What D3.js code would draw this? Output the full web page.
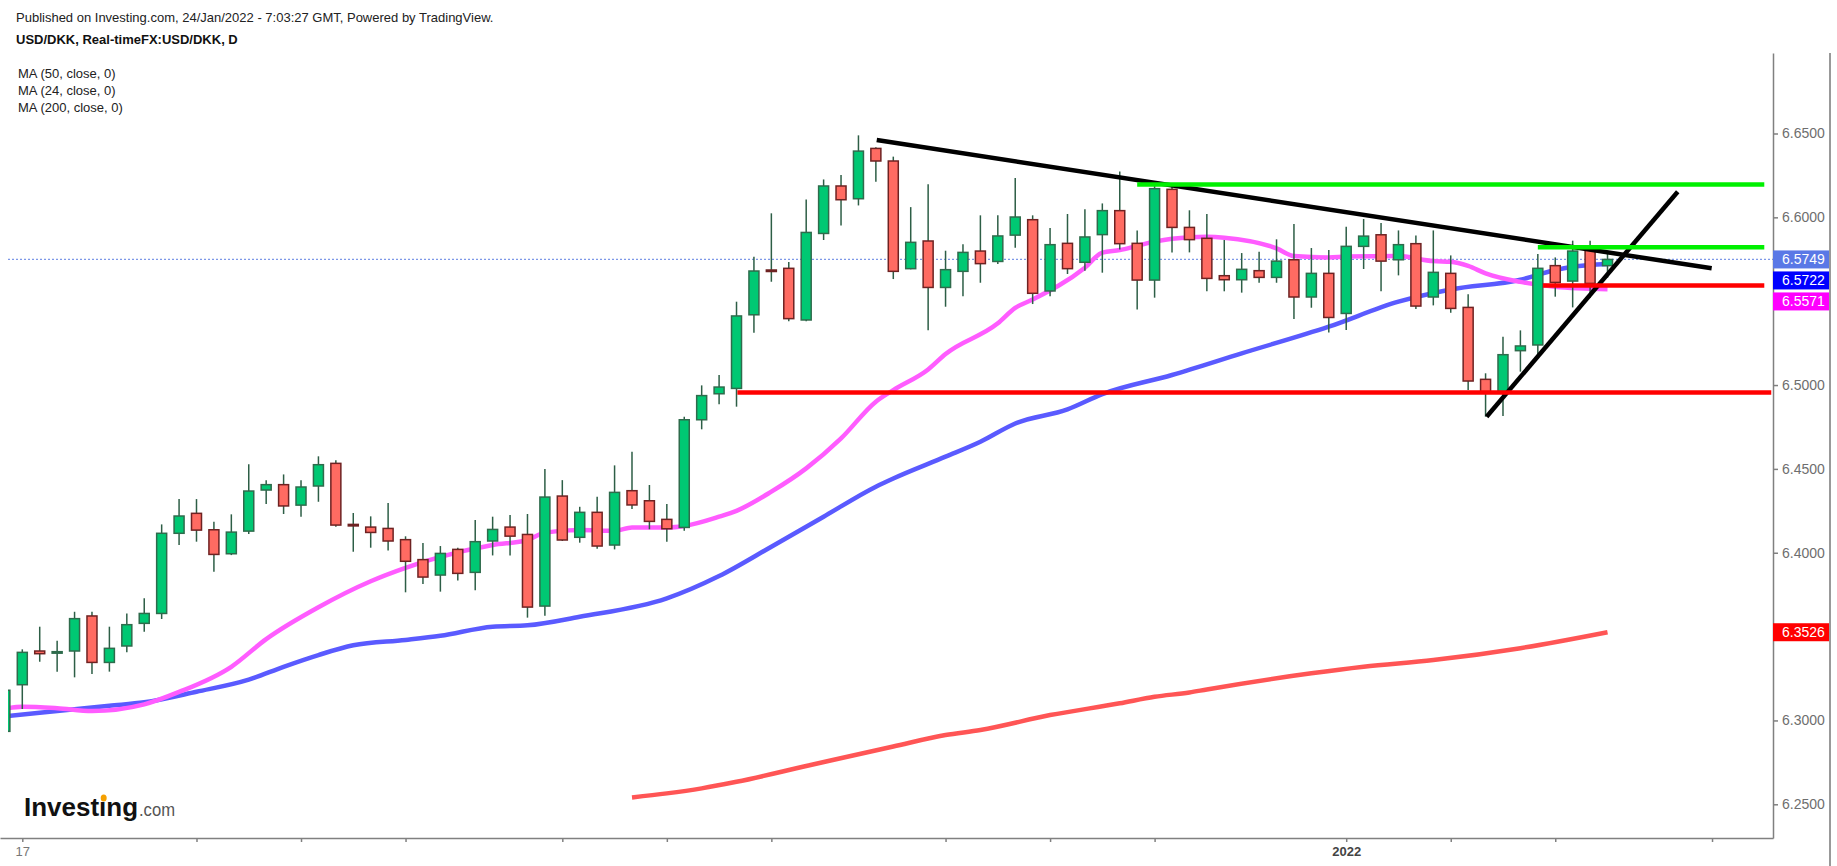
<!DOCTYPE html>
<html>
<head>
  <meta charset="utf-8">
  <title>USD/DKK daily candles with moving averages</title>
  <style>
    html, body {
      margin: 0;
      padding: 0;
      background: #fff;
      overflow: hidden;
    }
    svg {
      display: block;
      font-family: "Liberation Sans", Arial, sans-serif;
    }
    .axis text {
      font-size: 14px;
      fill: #6e6e6e;
    }
    .axis path, .axis line {
      stroke: #808080;
      stroke-width: 1.5px;
    }
    .header {
      font-size: 13px;
      fill: #222;
    }
  </style>
</head>
<body>
  <div id="chart"></div>

  <script src="https://d3js.org/d3.v7.min.js"></script>
  <script>
    // ---- Daily candles, index 0 = 16 Sep 2021 ... 92 = 24 Jan 2022 ----
    const openP = [
      6.2935, 6.3213, 6.3414, 6.3405, 6.3414, 6.3623, 6.3346, 6.3444, 6.3579, 6.3638,
      6.4116, 6.4235, 6.4137, 6.3994, 6.4129, 6.4374, 6.4406, 6.4284, 6.4398, 6.4533,
      6.4169, 6.4153, 6.4145, 6.4078, 6.3959, 6.3867, 6.4020, 6.3883, 6.4070, 6.4153,
      6.4109, 6.3682, 6.4338, 6.4092, 6.4241, 6.4046, 6.4370, 6.4310, 6.4199, 6.4151,
      6.4793, 6.4948, 6.4980, 6.5419, 6.5686, 6.5696, 6.5388, 6.5904, 6.6187, 6.6111,
      6.6411, 6.6336, 6.5694, 6.5859, 6.5582, 6.5678, 6.5799, 6.5737, 6.5894, 6.5986,
      6.5561, 6.5845, 6.5732, 6.5897, 6.6040, 6.5845, 6.5626, 6.6167, 6.5940, 6.5875,
      6.5652, 6.5628, 6.5682, 6.5642, 6.5747, 6.5525, 6.5666, 6.5427, 6.5827, 6.5896,
      6.5747, 6.5843, 6.5525, 6.5666, 6.5463, 6.5034, 6.4954, 6.5205, 6.5239, 6.5712,
      6.5620, 6.5805, 6.5712
    ];
    const highP = [
      6.3190, 6.3424, 6.3559, 6.3475, 6.3648, 6.3648, 6.3559, 6.3638, 6.3728, 6.4169,
      6.4320, 6.4320, 6.4185, 6.4229, 6.4527, 6.4433, 6.4467, 6.4433, 6.4575, 6.4551,
      6.4237, 6.4217, 6.4296, 6.4098, 6.4058, 6.4040, 6.4030, 6.4195, 6.4215, 6.4225,
      6.4231, 6.4499, 6.4433, 6.4274, 6.4334, 6.4521, 6.4602, 6.4404, 6.4290, 6.4811,
      6.4998, 6.5060, 6.5497, 6.5765, 6.6024, 6.5733, 6.6107, 6.6226, 6.6252, 6.6489,
      6.6418, 6.6362, 6.6061, 6.6197, 6.5801, 6.5839, 6.6012, 6.6012, 6.6234, 6.6012,
      6.5936, 6.6020, 6.6048, 6.6083, 6.6274, 6.5922, 6.6199, 6.6203, 6.6042, 6.6020,
      6.5865, 6.5787, 6.5795, 6.5869, 6.5960, 6.5817, 6.5805, 6.5944, 6.5990, 6.5966,
      6.5922, 6.5892, 6.5922, 6.5773, 6.5541, 6.5070, 6.5288, 6.5326, 6.5781, 6.5761,
      6.5861, 6.5861, 6.5785
    ];
    const lowP = [
      6.2925, 6.3068, 6.3350, 6.3291, 6.3257, 6.3277, 6.3291, 6.3406, 6.3529, 6.3605,
      6.4046, 6.4066, 6.3887, 6.3986, 6.4112, 6.4290, 6.4231, 6.4215, 6.4304, 6.4155,
      6.4006, 6.4030, 6.4014, 6.3764, 6.3813, 6.3768, 6.3835, 6.3776, 6.3984, 6.3984,
      6.3613, 6.3625, 6.4070, 6.4060, 6.4024, 6.4020, 6.4261, 6.4140, 6.4066, 6.4131,
      6.4736, 6.4885, 6.4871, 6.5312, 6.5616, 6.5380, 6.5380, 6.5865, 6.5952, 6.6071,
      6.6212, 6.5632, 6.5690, 6.5326, 6.5467, 6.5529, 6.5610, 6.5722, 6.5819, 6.5483,
      6.5529, 6.5662, 6.5682, 6.5670, 6.5809, 6.5451, 6.5521, 6.5791, 6.5791, 6.5559,
      6.5559, 6.5551, 6.5610, 6.5610, 6.5394, 6.5461, 6.5314, 6.5328, 6.5692, 6.5559,
      6.5654, 6.5453, 6.5475, 6.5431, 6.4970, 6.4811, 6.4815, 6.5080, 6.5159, 6.5527,
      6.5463, 6.5521, 6.5640
    ];
    const closeP = [
      6.3180, 6.3406, 6.3398, 6.3410, 6.3607, 6.3346, 6.3430, 6.3571, 6.3638, 6.4116,
      6.4219, 6.4135, 6.3990, 6.4123, 6.4368, 6.4406, 6.4279, 6.4392, 6.4525, 6.4165,
      6.4160, 6.4121, 6.4070, 6.3949, 6.3855, 6.3996, 6.3877, 6.4066, 6.4139, 6.4099,
      6.3676, 6.4332, 6.4076, 6.4241, 6.4040, 6.4360, 6.4285, 6.4187, 6.4143, 6.4793,
      6.4937, 6.4988, 6.5412, 6.5680, 6.5682, 6.5396, 6.5910, 6.6187, 6.6105, 6.6395,
      6.6336, 6.5678, 6.5851, 6.5582, 6.5688, 6.5791, 6.5724, 6.5889, 6.6002, 6.5547,
      6.5837, 6.5694, 6.5883, 6.6040, 6.5843, 6.5626, 6.6171, 6.5940, 6.5867, 6.5636,
      6.5628, 6.5690, 6.5642, 6.5739, 6.5525, 6.5666, 6.5403, 6.5827, 6.5888, 6.5739,
      6.5837, 6.5471, 6.5672, 6.5457, 6.5024, 6.4954, 6.5181, 6.5233, 6.5696, 6.5612,
      6.5799, 6.5606, 6.5749
    ];

    // ---- Moving averages at these candle indices ----
    const ma50Idx = [0, 2, 6, 8, 11, 14, 16, 18, 20, 23, 25, 28, 30, 33, 38, 41, 44, 47, 50, 51,
                     54, 56, 58, 61, 63, 67, 71, 76, 80, 83, 87, 89, 90, 92];
    const ma50Val = [6.3024, 6.3046, 6.3088, 6.3108, 6.3171, 6.3243, 6.3320, 6.3390, 6.3448, 6.3480,
                     6.3505, 6.3559, 6.3567, 6.3618, 6.3728, 6.3861, 6.4036, 6.4215, 6.4394, 6.4443,
                     6.4573, 6.4662, 6.4771, 6.4855, 6.4946, 6.5060, 6.5189, 6.5348, 6.5497, 6.5570,
                     6.5628, 6.5686, 6.5705, 6.5722];

    const ma24Idx = [0, 1, 3, 5, 8, 10, 13, 15, 18, 21, 23, 25, 28, 30, 31, 33, 35, 36, 38, 39,
                     41, 42, 44, 46, 48, 50, 51, 53, 54, 57, 58, 59, 62, 63, 64, 65, 66, 67, 69, 70,
                     73, 74, 76, 77, 80, 82, 83, 84, 85, 87, 89, 92];
    const ma24Val = [6.3070, 6.3082, 6.3073, 6.3056, 6.3096, 6.3170, 6.3320, 6.3485, 6.3675, 6.3830,
                     6.3910, 6.3975, 6.4046, 6.4076, 6.4120, 6.4135, 6.4131, 6.4151, 6.4151, 6.4160,
                     6.4215, 6.4250, 6.4364, 6.4503, 6.4682, 6.4901, 6.4970, 6.5093, 6.5185, 6.5368,
                     6.5460, 6.5510, 6.5700, 6.5790, 6.5805, 6.5830, 6.5855, 6.5872, 6.5884, 6.5879,
                     6.5815, 6.5769, 6.5761, 6.5766, 6.5769, 6.5739, 6.5735, 6.5710, 6.5666, 6.5615,
                     6.5586, 6.5571];

    const ma200Idx = [36, 38, 40, 42, 46, 51, 54, 56, 60, 64, 66, 68, 69, 75, 78, 82, 87, 92];
    const ma200Val = [6.2541, 6.2565, 6.2595, 6.2634, 6.2728, 6.2845, 6.2913, 6.2943, 6.3032, 6.3102,
                      6.3141, 6.3167, 6.3185, 6.3281, 6.3320, 6.3360, 6.3431, 6.3526];

    // ---- Hand-drawn studies: [index1, price1, index2, price2] ----
    const blackLines = [[50.05, 6.6461, 97.98, 6.5696], [85.06, 6.4811, 96.03, 6.6153]];
    const greenLines = [[65.0, 6.6196, 101.0, 6.6196], [88.0, 6.5821, 101.0, 6.5821]];
    const redLines   = [[42.05, 6.4955, 101.4, 6.4955], [88.3, 6.5593, 101.0, 6.5593]];

    // ---- Axis ticks ----
    const priceTicks = [6.25, 6.30, 6.35, 6.40, 6.45, 6.50, 6.55, 6.60, 6.65];
    const timeTickIdx = [1, 11, 17, 23, 32, 38, 44, 54, 60, 66, 77, 83, 89, 98];
    const timeTickLabels = ["17", "", "", "", "", "", "", "", "", "", "2022", "", "", ""];

    // ---- Last-value markers on the price scale ----
    const markerValues = [6.5749, 6.5722, 6.5571, 6.3526];
    const markerColors = ["#5a78e6", "#0000ff", "#ff00ff", "#ff0000"];

    const maLabels = ["MA (50, close, 0)", "MA (24, close, 0)", "MA (200, close, 0)"];

    // Page and plot geometry
    const width = 1837, height = 866;
    const plot = {left: 8, right: 1773, top: 53, bottom: 838};

    const x = d3.scaleLinear().domain([-0.28, 101.5]).range([0, plot.right]);
    const y = d3.scaleLinear().domain([6.2299, 6.698]).range([plot.bottom, plot.top]);

    const svg = d3.select("#chart").append("svg")
      .attr("width", width)
      .attr("height", height);

    svg.append("defs").append("clipPath")
      .attr("id", "plotClip")
      .append("rect")
      .attr("x", plot.left)
      .attr("y", plot.top)
      .attr("width", plot.right - plot.left)
      .attr("height", plot.bottom - plot.top);

    const g = svg.append("g").attr("clip-path", "url(#plotClip)");

    // Dotted line at the last price
    g.append("line")
      .attr("x1", plot.left).attr("x2", plot.right)
      .attr("y1", y(closeP[closeP.length - 1])).attr("y2", y(closeP[closeP.length - 1]))
      .attr("stroke", "#7d98e8")
      .attr("stroke-width", 1.3)
      .attr("stroke-dasharray", "2,2");

    // Moving averages
    const lineGen = d3.line().x(d => x(d[0])).y(d => y(d[1])).curve(d3.curveMonotoneX);

    [[ma200Idx, ma200Val, "#ff5555"], [ma50Idx, ma50Val, "#5a5aff"], [ma24Idx, ma24Val, "#ff5cff"]]
      .forEach(([idx, vals, color]) => {
        g.append("path")
          .datum(idx.map((k, j) => [k, vals[j]]))
          .attr("fill", "none")
          .attr("stroke", color)
          .attr("stroke-width", 4.5)
          .attr("stroke-linejoin", "round")
          .attr("d", lineGen);
      });

    // Candles
    const candles = openP.map((o, i) => ({i, o, h: highP[i], l: lowP[i], c: closeP[i]}));
    const candle = g.selectAll("g.candle")
      .data(candles)
      .enter().append("g")
      .attr("class", "candle");

    candle.append("line")
      .attr("x1", d => x(d.i)).attr("x2", d => x(d.i))
      .attr("y1", d => y(d.h)).attr("y2", d => y(d.l))
      .attr("stroke", "#2d5e46")
      .attr("stroke-width", 1.5);

    candle.append("rect")
      .attr("x", d => x(d.i) - 5)
      .attr("width", 10)
      .attr("y", d => y(Math.max(d.o, d.c)))
      .attr("height", d => Math.max(1.5, Math.abs(y(d.o) - y(d.c))))
      .attr("fill", d => d.c >= d.o ? "#00c873" : "#ff6b62")
      .attr("stroke", d => d.c >= d.o ? "#2f6b4c" : "#6e2222")
      .attr("stroke-width", 1.5);

    // Drawn studies on top
    const studies = g.append("g");
    [[blackLines, "#000"], [greenLines, "#00f000"], [redLines, "#ff0000"]].forEach(([set, color]) => {
      studies.selectAll(null)
        .data(set)
        .enter().append("line")
        .attr("x1", d => x(d[0])).attr("y1", d => y(d[1]))
        .attr("x2", d => x(d[2])).attr("y2", d => y(d[3]))
        .attr("stroke", color)
        .attr("stroke-width", 4.5);
    });

    // Price axis on the right
    const yAxis = svg.append("g")
      .attr("class", "axis")
      .attr("transform", "translate(" + plot.right + ",0)")
      .call(d3.axisRight(y)
        .tickValues(priceTicks)
        .tickFormat(d3.format(".4f"))
        .tickSize(5)
        .tickSizeOuter(0)
        .tickPadding(4));

    // Time axis
    const xAxis = svg.append("g")
      .attr("class", "axis")
      .attr("transform", "translate(0," + plot.bottom + ")")
      .call(d3.axisBottom(x)
        .tickValues(timeTickIdx)
        .tickFormat((d, k) => timeTickLabels[k])
        .tickSize(4)
        .tickSizeOuter(0)
        .tickPadding(5));
    xAxis.selectAll("text")
      .style("font-size", "13px")
      .style("font-weight", d => d === 77 ? "bold" : "normal")
      .style("fill", d => d === 77 ? "#444" : "#777");
    xAxis.select(".domain").attr("stroke-width", 2);

    // Right border of the picture
    svg.append("line")
      .attr("x1", 1830).attr("x2", 1830)
      .attr("y1", plot.top).attr("y2", height)
      .attr("stroke", "#555")
      .attr("stroke-width", 1.2);

    // Last-value markers, stacked so they do not overlap
    let lastBottom = -Infinity;
    const markers = markerValues
      .map((v, k) => ({v, color: markerColors[k], cy: y(v)}))
      .sort((a, b) => a.cy - b.cy);
    markers.forEach(m => {
      m.cy = Math.max(m.cy, lastBottom + 3 + 9);
      lastBottom = m.cy + 9;
    });

    // Price labels hidden behind a marker are dropped, as on the original
    yAxis.selectAll(".tick")
      .filter(t => markers.some(m => Math.abs(y(t) - m.cy) < 14))
      .select("text").remove();

    const mk = svg.append("g").selectAll("g")
      .data(markers)
      .enter().append("g");
    mk.append("rect")
      .attr("x", plot.right)
      .attr("y", d => d.cy - 9)
      .attr("width", 56)
      .attr("height", 18)
      .attr("fill", d => d.color);
    mk.append("text")
      .attr("x", plot.right + 9)
      .attr("y", d => d.cy)
      .attr("dy", "0.36em")
      .style("font-size", "14px")
      .style("fill", "#fff")
      .text(d => d3.format(".4f")(d.v));

    // Header texts
    svg.append("text").attr("class", "header")
      .attr("x", 16).attr("y", 22)
      .text("Published on Investing.com, 24/Jan/2022 - 7:03:27 GMT, Powered by TradingView.");
    svg.append("text").attr("class", "header")
      .attr("x", 16).attr("y", 44)
      .style("font-weight", "bold")
      .style("fill", "#111")
      .text("USD/DKK, Real-timeFX:USD/DKK, D");
    svg.selectAll("text.ma")
      .data(maLabels)
      .enter().append("text")
      .attr("class", "header ma")
      .attr("x", 18)
      .attr("y", (d, k) => 78 + k * 17)
      .text(d => d);

    // Investing.com logo
    const logo = svg.append("text")
      .attr("x", 24).attr("y", 816)
      .attr("textLength", 114)
      .attr("lengthAdjust", "spacingAndGlyphs")
      .style("font-size", "26px")
      .style("font-weight", "bold")
      .style("fill", "#111")
      .text("Invest\u0131ng");
    svg.append("text")
      .attr("x", 139).attr("y", 816)
      .attr("textLength", 36)
      .attr("lengthAdjust", "spacingAndGlyphs")
      .style("font-size", "19px")
      .style("fill", "#555")
      .text(".com");
    let dotX = 101;
    try {
      const n = logo.node();
      dotX = (n.getStartPositionOfChar(6).x + n.getEndPositionOfChar(6).x) / 2;
    } catch (e) {}
    svg.append("ellipse")
      .attr("cx", dotX + 1).attr("cy", 798)
      .attr("rx", 3).attr("ry", 3.5)
      .attr("fill", "#f5a000");
  </script>
</body>
</html>
